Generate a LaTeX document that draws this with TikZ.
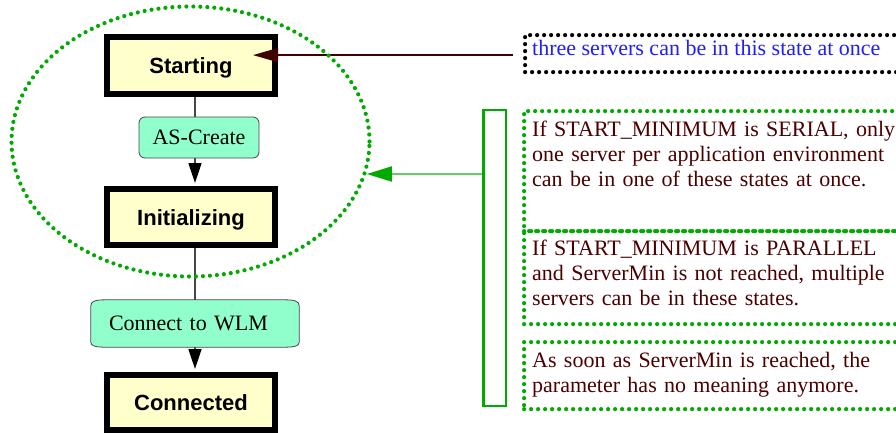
\documentclass[tikz,border=0pt]{standalone}
\usepackage{fontspec}
\setmainfont{Liberation Serif}
\setsansfont{Liberation Sans}
\usetikzlibrary{arrows.meta,calc,shapes.geometric,backgrounds}
\definecolor{boxyellow}{RGB}{255,255,204}
\definecolor{aquafill}{RGB}{144,255,204}
\definecolor{dgreen}{RGB}{0,170,0}
\definecolor{lgreen}{RGB}{100,205,100}
\definecolor{notered}{RGB}{75,0,0}
\definecolor{arrowbrown}{RGB}{64,0,0}
\definecolor{textblue}{RGB}{30,30,255}
\definecolor{linegray}{RGB}{70,70,70}
\begin{document}
\begin{tikzpicture}[x=1pt,y=-1pt,
  serif22/.style={font=\fontsize{22}{25}\selectfont},
  state/.style={draw=black, line width=6pt, fill=boxyellow, minimum width=168pt,
    minimum height=57pt, inner sep=0pt, text height=16pt, text depth=0pt,
    font=\sffamily\bfseries\fontsize{22}{25}\selectfont},
  action/.style={draw=linegray, line width=0.8pt, fill=aquafill, rounded corners=6pt,
    minimum width=120pt, minimum height=41pt, inner sep=0pt, serif22},
  dotline/.style={line width=4.2pt, dash pattern=on 0pt off 7pt, line cap=round},
  notebox/.style={dotline, anchor=north west, inner sep=0pt, minimum width=390pt},
  notetext/.style={anchor=north west, inner sep=0pt, text width=380pt, align=left,
    serif22, text=notered},
  conn/.style={draw=linegray, line width=1.6pt},
  connarrow/.style={conn, -{Triangle[length=20pt,width=13pt,color=black]}}
]
\useasboundingbox (0,0) rectangle (896,432);
\clip (0,0) rectangle (896,432);

% states
\node[state] (start) at (191,65.5) {Starting};
\node[state, minimum height=56pt] (init) at (191,217) {Initializing};
\node[state, minimum height=55pt] (connd) at (191,402.5) {Connected};

% actions
\node[action] (asc) at (199,137.5) {AS-Create};
\node[serif22, inner xsep=18pt, inner ysep=0pt, text width=172pt, align=left,
      minimum height=47pt] (cw) at (195,323.5) {Connect to WLM};
\begin{pgfonlayer}{background}
\path[draw=linegray, line width=0.8pt, fill=aquafill]
  ($(cw.north west)+(0,6)$) .. controls ($(cw.north west)+(0,1)$) and ($(cw.north west)+(5,0)$) .. ($(cw.north west)+(16,0)$)
  -- ($(cw.north east)+(-16,0)$) .. controls ($(cw.north east)+(-5,0)$) and ($(cw.north east)+(0,1)$) .. ($(cw.north east)+(0,6)$)
  -- ($(cw.south east)+(0,-5)$) .. controls ($(cw.south east)+(0,-1)$) and ($(cw.south east)+(-5,0)$) .. ($(cw.south east)+(-16,0)$)
  -- ($(cw.south west)+(16,0)$) .. controls ($(cw.south west)+(5,0)$) and ($(cw.south west)+(0,-1)$) .. ($(cw.south west)+(0,-5)$)
  -- cycle;
\end{pgfonlayer}

% connectors between states
\begin{pgfonlayer}{background}
\draw[conn] (start.south -| cw.center) -- (asc.north -| cw.center);
\draw[connarrow] (asc.south -| cw.center) -- ([yshift=3pt]init.north -| cw.center);
\draw[conn] (init.south -| cw.center) -- (cw.north);
\draw[connarrow] (cw.south) -- ([yshift=3pt]connd.north -| cw.center);
\end{pgfonlayer}

% notes
\node[notebox, draw=black, minimum height=37pt] (n1) at (523,33) {};
\node[anchor=north west, inner sep=0pt, serif22, text=textblue] (t1) at (532,37.5) {\strut three servers can be in this state at once};

\node[notebox, draw=dgreen, minimum height=120pt] (n2) at (522,109) {};
\node[notebox, draw=dgreen, minimum height=93pt] (n3) at (522,229) {};
\node[notebox, draw=dgreen, minimum height=67pt] (n4) at (522,340) {};
\node[notetext] (t2) at (532,118.5) {\strut If START\_MINIMUM is SERIAL, only\\one server per application environment\\can be in one of these states at once.};
\node[notetext] (t3) at (532,237.5) {\strut If START\_MINIMUM is PARALLEL\\and ServerMin is not reached, multiple\\servers can be in these states.};
\node[notetext] (t4) at (532,349.5) {\strut As soon as ServerMin is reached, the\\parameter has no meaning anymore.};

% bracket
\node[draw=dgreen, line width=2.5pt, minimum width=22.5pt, minimum height=296pt, inner sep=0pt] (brk) at (494.5,258) {};

% brown arrow to Starting
\coordinate (tipA) at ($(start.east |- n1.west)+(-25,1.5)$);
\draw[arrowbrown, line width=1.4pt, -{Triangle[length=25pt,width=14pt]}]
  ($(n1.west)+(-10,1.5)$) -- (tipA);

% group ellipse
\node[ellipse, draw=dgreen, dotline, minimum width=358pt, minimum height=270pt, inner sep=0pt] (grp) at (190.5,141.5) {};

% green arrow from bracket to ellipse
\coordinate (ga) at ($(brk.west)+(0,-84)$);
\draw[lgreen, line width=2pt, -{Triangle[length=25pt,width=15pt,color=dgreen]}]
  (ga) -- (ga -| grp.-10.5);
\end{tikzpicture}
\end{document}
